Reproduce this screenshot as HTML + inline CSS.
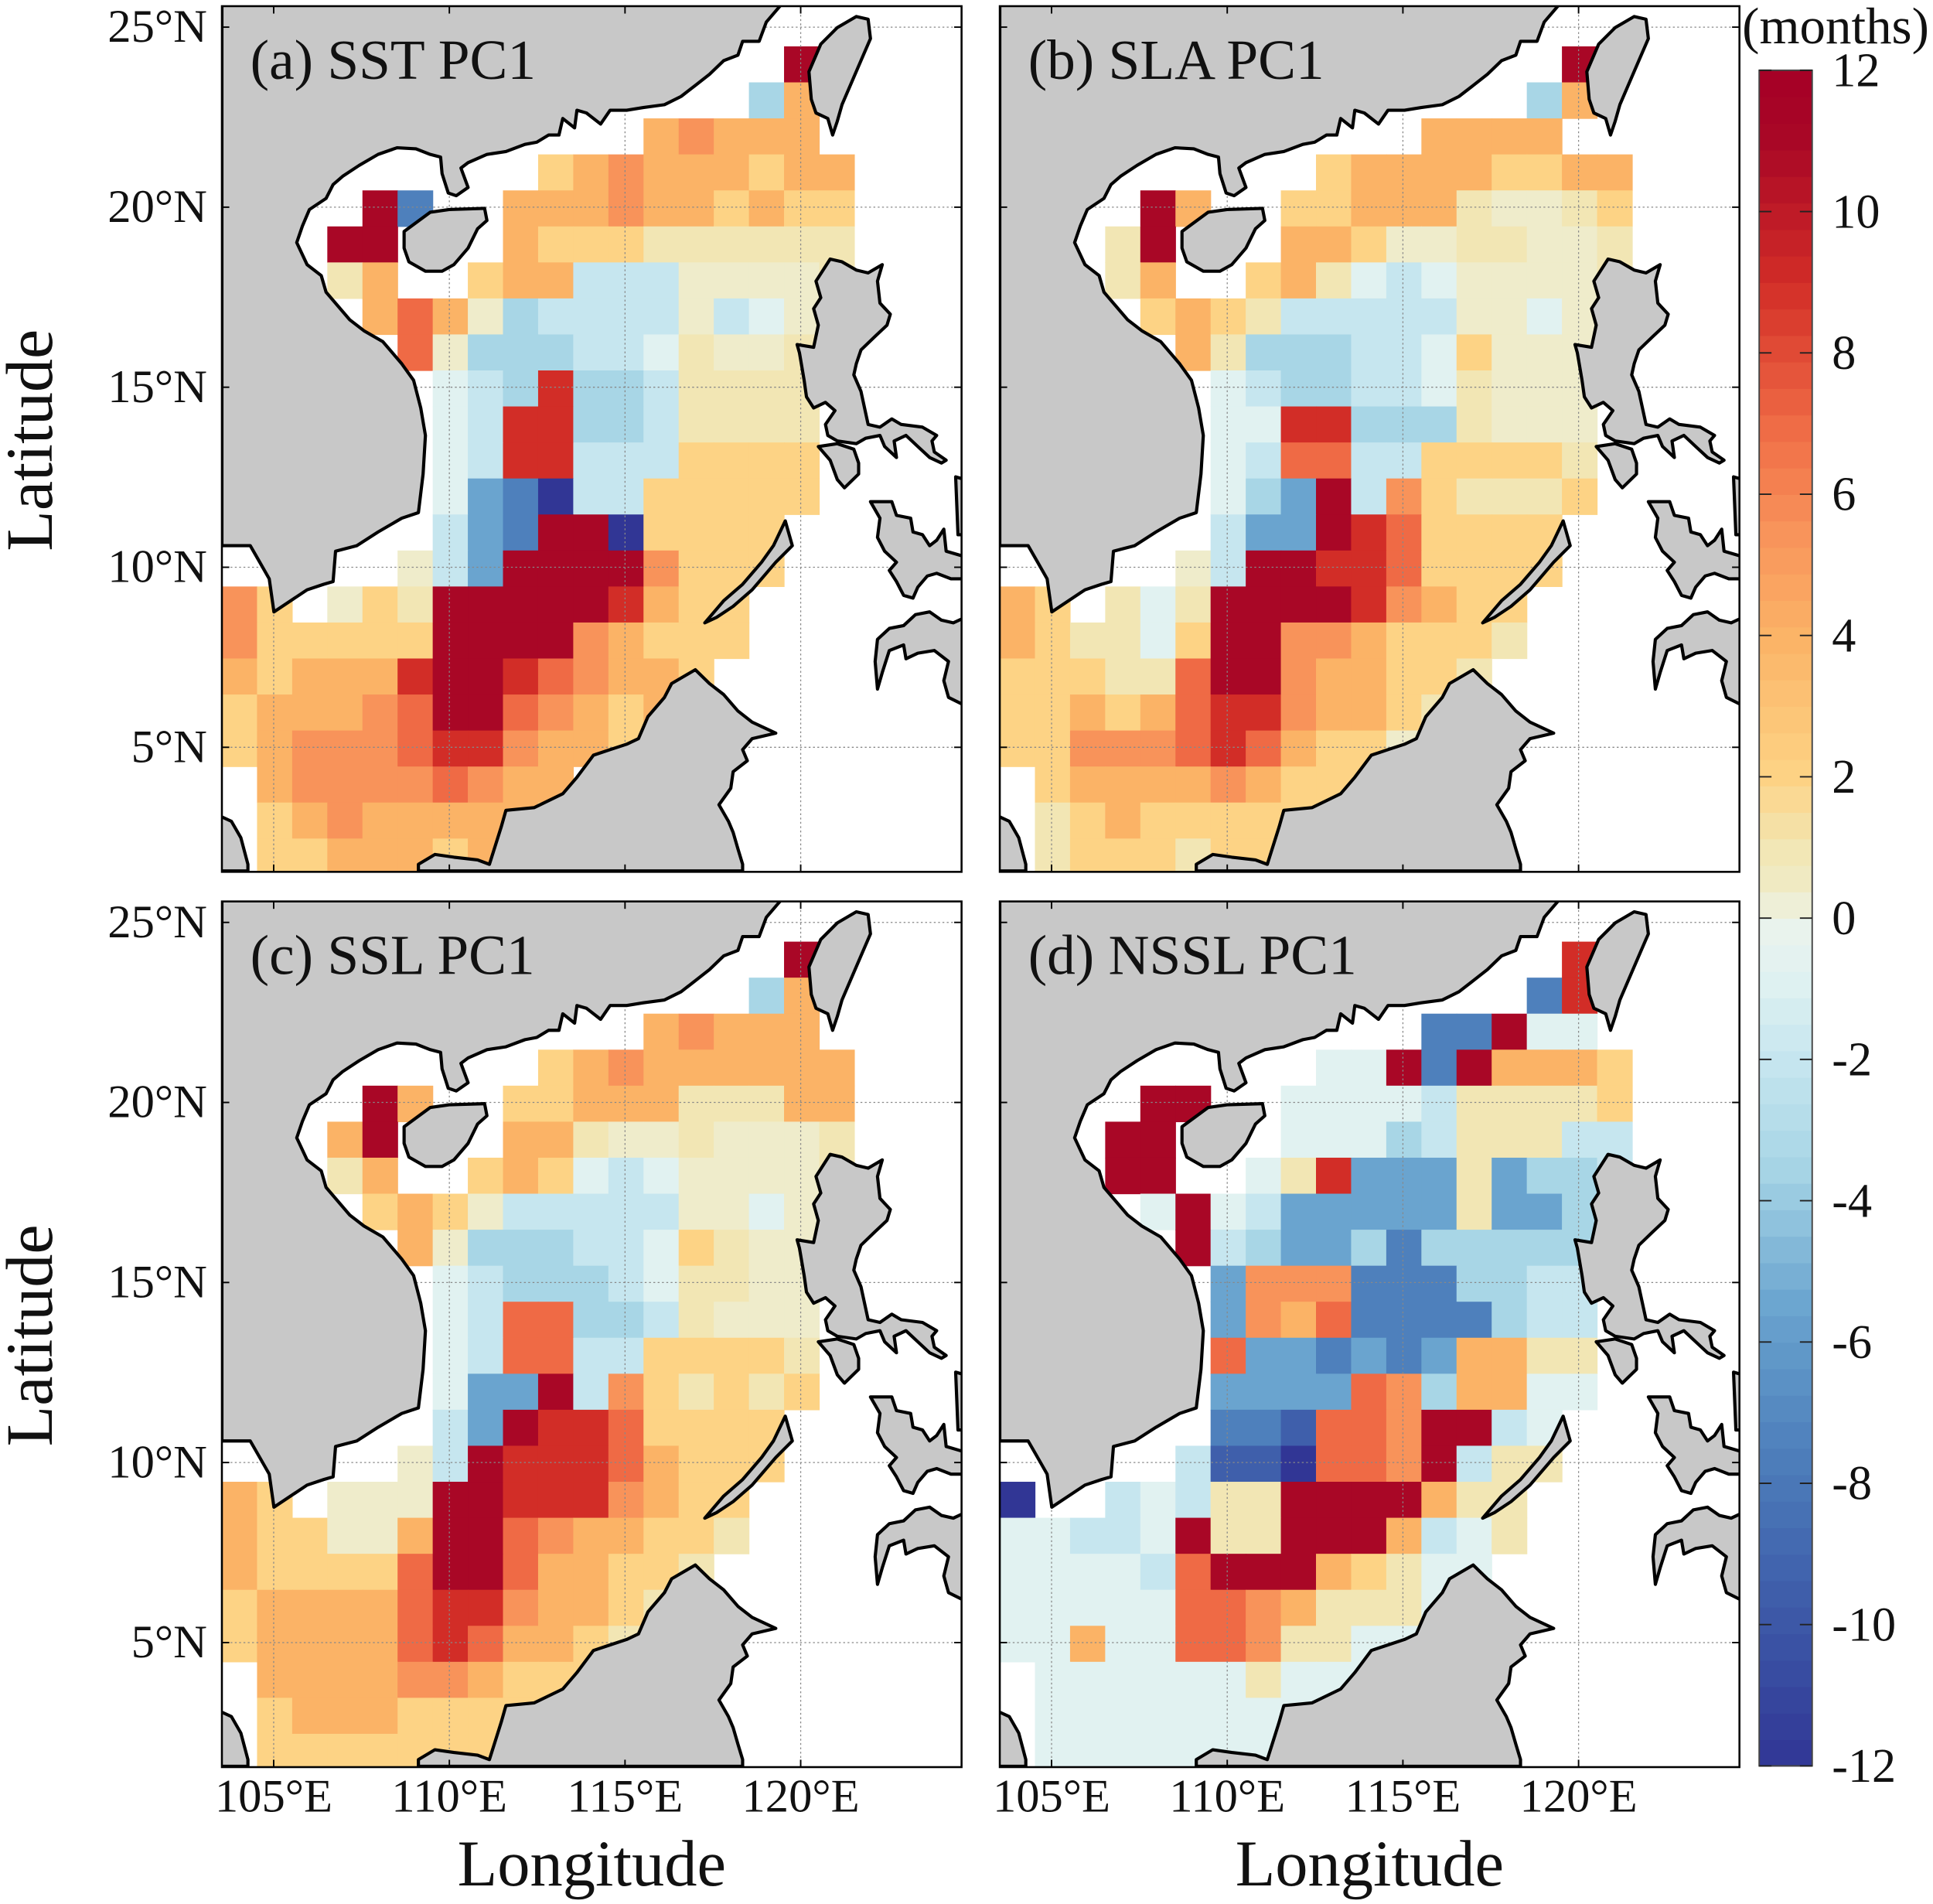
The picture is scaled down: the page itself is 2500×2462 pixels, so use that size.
<!DOCTYPE html>
<html><head><meta charset="utf-8"><style>
html,body{margin:0;padding:0;background:#fff;}
svg{display:block;}
text{font-family:"Liberation Serif",serif;fill:#111;}
</style></head><body>
<svg id="fig" xmlns="http://www.w3.org/2000/svg" width="2500" height="2462" viewBox="0 0 1568 1544" preserveAspectRatio="none">
<rect x="0" y="0" width="1568" height="1544" fill="#fff"/>
</svg>
<script>
// ---- data: phase lag (months), one char per 1-degree cell; '.' = no data ----
const codeKeys = ['R','r','O','q','o','y','p','w','e','c','b','m','B','D','N'];
const codeValues = [11,9,7,5.5,4,2,1,0.3,-0.8,-2,-3.5,-5.5,-7.5,-9.5,-12];
const sstGrid = [
".....................","................R....","...............bo....","............oqooo....",
".........yoqoooyoo...","....RB..oooqooyoyy...","...RR...oyyypppppp...","...po..yoocccwwwwp...",
"....oOowbccccwcewp...",".....Owbbbccepwwpp...","......ecbrbbcpppp....","......ecrrbbcpppp....",
"......ecrrcccyyyy....","......emBNccyyyyy....","......cmBRRNyyyy.....",".....wcmRRRRqyyy.....",
"qy.wypRRRRRroyy......","qyyyyyRRRRqoyyy......","oyooorRRrOqooy.......","yoooqORROqoyo........",
"yoqqqOrrqooy.........",".oqqqqOqoo...........",".yoqoooooy...........",".yyoooyo............."];
const slaGrid = [
".....................","................R....","...............bo....","............oooo.....",
".........yooooyyoo...","....Ro..yyooopwwpy...","...pR...ooywwppwwp...","...po..yopecewwwwp...",
"....yoypcccccwwew....",".....opbbbcceywww....","......ecbbccepwww....","......eerrbbbpwww....",
"......ecOOccyyyyp....","......ebmRcqypppy....","......cmmRrOyyyy.....",".....wcRRrrOyyyy.....",
"oy.pepRRRRrqoyy......","oyppeyRRqqoyyyp......","yyyppORRqooyyp.......","yyoyoOrrqooyp........",
"yyqqqOrOoyyw.........",".yooooqoyyy..........",".pyoyyyyyy...........",".pyyypyy............."];
const sslGrid = [
".....................","................R....","...............bo....","............oqooo....",
".........yoqoooooo...","....Ro..yyooopppoo...","...oR...oopwwpwwwp...","...po..yoyecewwwwp...",
"....yoywcccccwwew....",".....owbbbcceypww....","......ecbbbceppww....","......ecOObbcpwww....",
"......ecOOccyyyyp....","......emmRcqypypy....","......cmRrrOyyyy.....",".....wcRrrrOoyyy.....",
"oy.wwwRRrrrqoyy......","oyywwoRROqooyyp......","oyyyyORROooyyp.......","yooooOrrqooyp........",
"yooooOrOooyp.........",".ooooqqoyyy..........",".yoooyyyyy...........",".yyyyyyy............."];
const nsslGrid = [
".....................","................r....","...............Br....","............BBRee....",
".........eeRBRoooy...","....RR..eeeecppppy...","...RR...eeebcpppcc...","...RR..eprmmmpmbbc...",
"....eRecmmmmmpmmb....",".....RcbmmbBbbbbb....","......mqqqBBBbbcc....","......mqoOBBBBbcc....",
"......OmmBmBmoopp....","......mmmmOqbooee....","......BBDOOqRRce.....",".....cDDNOOqRcpp.....",
"N..cecppRRRRopp......","eecceRppRRRocep......","eeeecORRRoypee.......","eeeeeOOqopppe........",
"eeoeeOOqppee.........",".eeeeeepeee..........",".eeeeeeeee...........",".eeeeeee............."];
const panelTitles = ['(a) SST PC1','(b) SLA PC1','(c) SSL PC1','(d) NSSL PC1'];
const latTicks = [25,20,15,10,5];
const lonTicks = [105,110,115,120];
const cbarTicks = [12,10,8,6,4,2,0,-2,-4,-6,-8,-10,-12];
// colormap
const cmapVals = [-12,-9.5,-7.5,-5.5,-3.5,-2,-0.8,0,0.3,1,2,4,5.5,7,9,11,12];
const cmapCols = ['#313695','#3f5fab','#4e80bc','#6aa4cf','#a8d6e6','#c6e6ef','#e1f2f1','#ecf3ec','#efeccb','#f2e6b4','#fdd385','#fbb366','#f8935a','#ef6a45','#d22d27','#a90726','#a50026'];

const NS='http://www.w3.org/2000/svg';
const svg=document.getElementById('fig');
function mk(tag,attrs,parent){const e=document.createElementNS(NS,tag);for(const k in attrs)e.setAttribute(k,attrs[k]);(parent||svg).appendChild(e);return e;}
function hex(c){return [parseInt(c.slice(1,3),16),parseInt(c.slice(3,5),16),parseInt(c.slice(5,7),16)];}
function color(v){
  if(v<=cmapVals[0])return cmapCols[0];
  for(let i=1;i<cmapVals.length;i++){if(v<=cmapVals[i]){const t=(v-cmapVals[i-1])/(cmapVals[i]-cmapVals[i-1]);const a=hex(cmapCols[i-1]),b=hex(cmapCols[i]);return 'rgb('+a.map((x,j)=>Math.round(x+(b[j]-x)*t)).join(',')+')';}}
  return cmapCols[cmapCols.length-1];
}
const lonDeg=28.5, lonRef=105, lonRefX=222;
const latDeg=29.2, latRef=25, latRefY=22;
function xLon(lon){return lonRefX+(lon-lonRef)*lonDeg;}
function yLat(lat){return latRefY+(latRef-lat)*latDeg;}
const colX=k=>180+k*28.5, rowY=j=>8.4+j*29.2;

const landPolys=[
[[0,0],[1180,0],[1180,10],[1150,40],[1135,75],[1100,75],[1090,100],[1060,110],[1030,135],[1000,155],[970,175],[935,190],[890,195],[855,200],[820,200],[800,225],[770,205],[750,200],[745,232],[720,215],[712,245],[690,245],[665,258],[640,262],[600,275],[560,280],[520,295],[505,305],[520,340],[495,355],[478,350],[465,315],[462,285],[440,280],[410,270],[370,268],[330,280],[290,300],[255,320],[235,335],[220,360],[185,380],[170,410],[158,440],[180,480],[210,500],[220,530],[270,580],[300,600],[340,620],[380,660],[405,690],[420,740],[430,790],[425,860],[415,930],[380,940],[330,965],[285,990],[240,1000],[235,1055],[215,1060],[180,1070],[110,1110],[100,1050],[80,1020],[60,990],[0,990]],
[[385,420],[440,385],[480,380],[555,378],[560,400],[540,415],[520,450],[490,480],[465,492],[430,492],[395,475],[385,450]],
[[1240,130],[1265,80],[1300,50],[1340,30],[1365,35],[1370,70],[1355,100],[1335,140],[1310,190],[1300,220],[1290,245],[1280,215],[1255,205],[1245,180]],
[[1255,510],[1285,470],[1310,475],[1340,490],[1365,495],[1395,480],[1385,510],[1390,550],[1412,570],[1405,590],[1380,610],[1350,635],[1340,660],[1335,680],[1350,710],[1365,770],[1390,775],[1415,760],[1435,770],[1480,775],[1510,790],[1500,800],[1505,820],[1530,835],[1520,840],[1495,830],[1470,810],[1445,790],[1420,800],[1425,830],[1400,810],[1390,790],[1360,795],[1340,805],[1300,800],[1280,790],[1275,770],[1295,745],[1275,730],[1250,740],[1235,720],[1230,690],[1220,640],[1215,625],[1250,630],[1260,590],[1250,560],[1265,540]],
[[1260,810],[1300,805],[1335,815],[1345,840],[1345,860],[1315,885],[1300,870],[1285,835]],
[[1370,910],[1415,910],[1425,935],[1455,940],[1460,965],[1480,970],[1495,990],[1510,980],[1525,960],[1530,1000],[1570,1010],[1570,1050],[1540,1050],[1510,1040],[1490,1045],[1470,1065],[1460,1085],[1440,1080],[1425,1055],[1410,1035],[1425,1020],[1400,1000],[1385,975],[1390,940]],
[[1550,865],[1570,870],[1570,970],[1555,970]],
[[1385,1160],[1410,1140],[1440,1135],[1465,1115],[1495,1110],[1520,1125],[1545,1130],[1570,1120],[1570,1280],[1535,1265],[1525,1235],[1535,1200],[1505,1180],[1470,1185],[1445,1195],[1440,1170],[1410,1180],[1395,1220],[1385,1250],[1380,1200]],
[[1020,1130],[1060,1090],[1100,1060],[1140,1020],[1165,990],[1190,945],[1205,990],[1170,1020],[1120,1070],[1080,1100],[1045,1120]],
[[415,1580],[415,1568],[450,1550],[490,1555],[540,1560],[565,1568],[590,1500],[600,1470],[660,1465],[720,1440],[750,1410],[785,1370],[820,1360],[855,1350],[880,1340],[900,1300],[935,1265],[950,1240],[1000,1215],[1030,1240],[1060,1260],[1090,1290],[1120,1310],[1170,1330],[1120,1340],[1100,1360],[1110,1380],[1080,1400],[1075,1430],[1050,1460],[1070,1490],[1080,1510],[1090,1540],[1100,1568],[1100,1580]],
[[-5,1480],[20,1490],[40,1520],[55,1568],[55,1580],[-5,1580]]
];

const grids=[sstGrid,slaGrid,sslGrid,nsslGrid];
const offsets=[[0,0],[631,0],[0,726],[631,726]];
const panelNames=['sst','sla','ssl','nssl'];

grids.forEach((grid,p)=>{
  const [ox,oy]=offsets[p];
  const g=mk('g',{transform:`translate(${ox},${oy})`});
  
  
  const cp=mk('clipPath',{id:'clip'+p},g);
  mk('rect',{x:180,y:5,width:600,height:702},cp);
  const inner=mk('g',{'clip-path':`url(#clip${p})`},g);
  const cells=mk('g',{},inner);
  
  
  grid.forEach((row,j)=>{
    for(let k=0;k<row.length;k++){
      const ch=row[k]; const idx=codeKeys.indexOf(ch); if(idx<0)continue;
      const v=codeValues[idx];
      const r=mk('rect',{x:colX(k).toFixed(2),y:rowY(j).toFixed(2),width:28.9,height:29.6,fill:color(v)},cells);
      
      
    }
  });
  lonTicks.forEach(l=>{const ln=mk('line',{x1:xLon(l),x2:xLon(l),y1:5,y2:707,stroke:'#888','stroke-width':0.8,'stroke-dasharray':'1.5 2'},inner);
    
    });
  latTicks.forEach(l=>{const ln=mk('line',{x1:180,x2:780,y1:yLat(l),y2:yLat(l),stroke:'#888','stroke-width':0.8,'stroke-dasharray':'1.5 2'},inner);
    
    });
  landPolys.forEach(poly=>{
    const pts=poly.map(([x,y])=>(180+0.384*x).toFixed(1)+','+(0.447*y).toFixed(1)).join(' ');
    const pl=mk('polygon',{points:pts,fill:'#c8c8c8',stroke:'#000','stroke-width':2.6,'stroke-linejoin':'round'},inner);
    
    
  });
  lonTicks.forEach(l=>{mk('line',{x1:xLon(l),x2:xLon(l),y1:707,y2:701,stroke:'#000','stroke-width':1.2},g);mk('line',{x1:xLon(l),x2:xLon(l),y1:5,y2:11,stroke:'#000','stroke-width':1.2},g);});
  latTicks.forEach(l=>{mk('line',{x1:180,x2:186,y1:yLat(l),y2:yLat(l),stroke:'#000','stroke-width':1.2},g);mk('line',{x1:780,x2:774,y1:yLat(l),y2:yLat(l),stroke:'#000','stroke-width':1.2},g);});
  const box=mk('rect',{x:180,y:5,width:600,height:702,fill:'none',stroke:'#000','stroke-width':1.6},g);
  
  
  const t=mk('text',{x:203,y:64,'font-size':46},g); t.textContent=panelTitles[p];
  
  
  if(p%2===0){
    latTicks.forEach(l=>{const tt=mk('text',{x:168,y:yLat(l)+12,'font-size':38,'text-anchor':'end'},g);tt.textContent=l+'°N';
      
      });
    const yl=mk('text',{x:0,y:0,'font-size':54,'text-anchor':'middle',transform:`translate(42,357) rotate(-90)`},g);yl.textContent='Latitude';
    
    
  }
  if(p>=2){
    lonTicks.forEach(l=>{const tt=mk('text',{x:xLon(l),y:743,'font-size':38,'text-anchor':'middle'},g);tt.textContent=l+'°E';
      
      });
    const xl=mk('text',{x:480,y:803,'font-size':53,'text-anchor':'middle'},g);xl.textContent='Longitude';
    
    
  }
});

const cbX=1427, cbW=43, cbTop=57, cbBot=1432;
const cbY=v=>cbTop+(12-v)*(cbBot-cbTop)/24;
const cb=mk('g',{});


const nLev=64, step=24/nLev;
for(let i=0;i<nLev;i++){
  const v0=-12+i*step, v1=v0+step;
  mk('rect',{x:cbX,y:cbY(v1).toFixed(2),width:cbW,height:(cbY(v0)-cbY(v1)+0.6).toFixed(2),fill:color((v0+v1)/2)},cb);
}
mk('rect',{x:cbX,y:cbTop,width:cbW,height:cbBot-cbTop,fill:'none',stroke:'#444','stroke-width':1.2},cb);
cbarTicks.forEach(v=>{
  mk('line',{x1:cbX+cbW-10,x2:cbX+cbW,y1:cbY(v),y2:cbY(v),stroke:'#222','stroke-width':1.2},cb);
  mk('line',{x1:cbX,x2:cbX+10,y1:cbY(v),y2:cbY(v),stroke:'#222','stroke-width':1.2},cb);
  const t=mk('text',{x:1486,y:cbY(v)+13,'font-size':39},cb);t.textContent=String(v);
  
  
});
const un=mk('text',{x:1489,y:35,'font-size':42,'text-anchor':'middle'},cb);un.textContent='(months)';


</script>
</body></html>
